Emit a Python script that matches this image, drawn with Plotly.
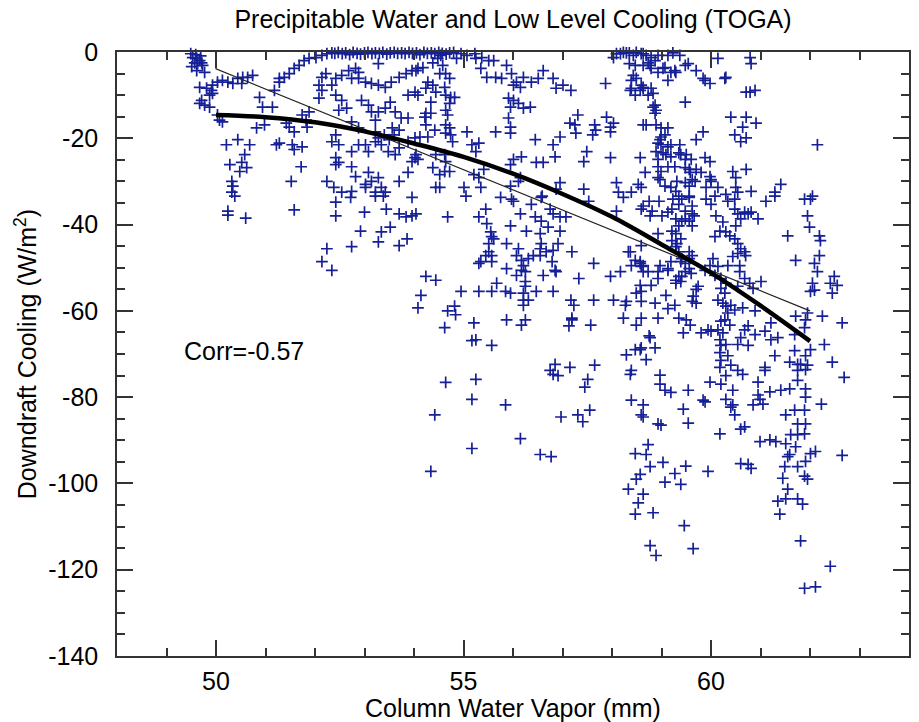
import plotly.graph_objects as go

# ---- data: (column water vapor [mm], downdraft cooling [W/m^2]) ----
west_upper = [
    (49.53,-1.3),(49.61,-1.5),(49.67,-2.0),(49.57,-2.5),(49.63,-2.7),(49.71,-2.5),(49.73,-3.1),(49.61,-4.3),(49.77,-4.7),(49.49,-0.4),
    (49.59,-0.6),(49.51,-3.4),(49.69,-0.9),(49.67,-8.2),(49.81,-8.4),(49.91,-8.9),(49.93,-9.6),(49.87,-10.0),(49.71,-11.2),(49.67,-11.9),
    (49.77,-12.3),(49.87,-12.8),(50.07,-15.8),(50.13,-16.2),(50.03,-14.6),(49.93,-7.7),(50.03,-7.0),(50.13,-6.6),(50.24,-7.0),(50.34,-7.3),
    (50.44,-6.1),(50.54,-5.9),(50.64,-5.9),(50.74,-5.4),(50.52,-7.3),(50.88,-10.5),(50.94,-12.8),(51.14,-12.8),(51.18,-8.9),(51.28,-6.1),
    (51.28,-7.0),(51.38,-5.9),(51.48,-5.0),(51.58,-3.8),(51.68,-3.1),(51.78,-2.0),(51.88,-1.5),(52.02,-1.3),(52.14,-0.8),(52.24,-0.4),
    (52.34,-0.2),
]
west_lower = [
    (50.21,-21.5),(50.44,-20.3),(50.68,-21.5),(50.28,-26.1),(50.58,-23.8),(50.52,-25.6),(50.62,-26.8),(50.48,-27.7),(50.32,-30.0),(50.34,-31.1),
    (50.32,-32.5),(50.82,-17.6),(50.98,-16.9),(50.24,-36.9),(50.24,-37.8),(50.60,-38.5),(51.58,-36.6),(50.38,-33.4),(51.22,-21.5),(51.28,-21.1),
    (51.54,-21.5),(51.58,-22.6),(51.74,-22.0),(51.52,-30.0),(51.72,-26.6),(51.42,-16.5),(51.58,-18.5),(51.74,-14.6),(51.88,-13.9),(51.82,-15.8),
    (51.48,-17.4),(51.84,-17.4),
]
central_west = [
    (52.14,-5.9),(52.22,-5.0),(52.08,-7.7),(52.14,-8.9),(52.08,-10.7),(52.34,-7.7),(52.42,-6.1),(52.54,-5.4),(52.68,-4.3),(52.82,-3.8),
    (52.88,-4.7),(52.74,-6.1),(52.88,-6.1),(53.02,-7.0),(53.14,-7.3),(53.28,-7.7),(53.42,-8.2),(53.54,-7.0),(53.70,-5.9),(53.84,-5.0),
    (53.96,-4.3),(53.28,-2.7),(52.42,-10.0),(52.54,-11.2),(52.64,-13.0),(52.48,-13.5),(52.74,-16.2),(52.88,-17.6),(52.94,-11.2),(53.08,-12.3),
    (53.14,-13.9),(53.22,-15.8),(53.28,-13.9),(53.42,-13.0),(53.52,-11.6),(53.62,-13.9),(53.74,-15.3),(53.88,-15.3),(53.88,-10.0),(54.02,-9.3),
    (53.22,-18.5),(53.28,-19.9),(53.22,-20.8),(53.34,-21.5),(53.48,-23.1),(53.02,-21.5),(53.08,-23.1),(52.74,-23.1),(52.88,-21.5),(52.42,-19.2),
    (52.48,-21.5),(52.34,-20.8),(52.42,-24.5),(52.48,-25.6),(52.42,-26.1),(52.74,-26.6),(52.82,-28.9),(53.02,-30.7),(53.08,-27.9),(53.14,-30.0),
    (53.28,-29.1),(53.34,-31.4),(53.42,-32.5),(53.22,-32.5),(53.02,-31.4),(52.74,-32.3),(52.54,-32.5),(52.38,-31.4),(52.24,-30.0),(53.70,-30.0),
    (53.96,-25.4),(54.02,-24.5),(53.88,-27.9),(53.62,-23.8),(53.70,-22.2),(53.88,-20.8),(54.02,-19.9),(53.40,-19.2),(53.50,-20.3),(53.60,-19.2),
    (53.70,-18.1),(53.56,-17.6),
    (52.42,-34.8),(52.72,-33.7),(52.42,-38.0),(53.00,-37.1),(53.44,-36.4),(53.70,-37.5),(53.84,-38.2),(53.96,-38.0),(52.92,-41.5),(53.34,-41.7),
    (53.52,-40.6),(53.28,-44.0),(52.74,-45.1),(52.24,-45.6),(52.14,-48.6),(52.34,-50.6),(53.70,-44.9),(53.86,-43.3),(53.22,-33.4),(53.38,-33.4),
    (53.96,-33.7),
]
top_row = [
    (52.40,-0.3),(52.47,-0.1),(52.55,-0.4),(52.62,-0.2),(52.70,-0.6),(52.77,-0.1),(52.85,-0.3),(52.92,-0.5),(53.00,-0.2),(53.07,-0.1),
    (53.15,-0.4),(53.22,-0.2),(53.30,-0.3),(53.37,-0.1),(53.45,-0.5),(53.52,-0.2),(53.60,-0.1),(53.67,-0.3),(53.75,-0.2),(53.82,-0.4),
    (53.90,-0.1),(53.97,-0.3),(54.05,-0.2),(54.12,-0.6),(54.20,-0.1),(54.27,-0.3),(54.35,-0.2),(54.42,-0.4),(54.50,-0.1),(54.57,-0.3),
    (54.65,-0.5),(54.72,-0.2),(54.80,-0.1),(54.95,-0.4),(55.07,-0.8),(55.23,-0.4),(55.37,-1.3),(55.51,-2.0),(58.09,-0.4),(58.23,-0.1),
    (58.35,-0.2),(58.49,-0.1),(58.63,-0.4),(58.17,-0.4),(58.29,-0.2),(58.43,-0.8),(58.59,-0.4),(58.69,-0.8),(58.03,-1.3),
]
central_upper = [
    (55.25,-1.5),(55.35,-3.8),(55.61,-2.0),(55.87,-3.1),(55.97,-5.0),(56.01,-7.7),(56.07,-7.0),(56.21,-5.9),(56.15,-8.2),(55.47,-5.9),
    (55.65,-5.9),(55.77,-6.1),(56.37,-7.0),(56.51,-6.1),(56.61,-4.3),(56.81,-6.1),(56.87,-8.4),(57.01,-7.7),(57.17,-8.9),(57.87,-7.3),
    (58.47,-3.1),(58.43,-5.4),(58.49,-6.1),(58.39,-8.4),(58.47,-10.0),(58.63,-16.9),
    (54.08,-3.8),(54.18,-3.6),(54.04,-4.3),(54.28,-7.0),(54.24,-8.4),(54.38,-7.7),(54.44,-9.3),(54.08,-10.0),(54.34,-11.6),(54.24,-14.2),
    (54.34,-14.2),(54.22,-15.1),(54.24,-16.9),(54.42,-18.1),(54.12,-19.7),(54.28,-19.7),(54.04,-23.8),(54.08,-24.9),(54.44,-23.8),(54.38,-26.8),
    (54.52,-28.4),(54.44,-31.4),(54.52,-5.0),(54.64,-5.0),(54.72,-6.1),(54.62,-8.2),(54.64,-10.0),(54.74,-10.5),(54.82,-10.5),(54.72,-11.9),
    (54.64,-13.5),(54.68,-14.6),(54.64,-16.9),(54.72,-17.6),(54.64,-18.8),(54.74,-19.2),(54.78,-20.8),(54.62,-23.8),(54.64,-25.4),(54.62,-27.7),
    (54.72,-27.7),(54.54,-0.8),(54.58,-3.1),(54.86,-1.5),(54.38,-2.5),(54.48,-1.5),
    (56.01,-11.2),(55.91,-10.7),(56.11,-11.9),(56.21,-13.0),(56.35,-12.8),(55.95,-12.8),(55.91,-15.3),(55.95,-17.4),(55.95,-18.8),(55.65,-18.5),
    (55.07,-18.5),(55.17,-21.5),(55.31,-21.1),(55.25,-23.1),(55.21,-28.4),(55.41,-27.2),(55.31,-29.1),(55.35,-31.4),(55.01,-31.4),(55.05,-33.4),
    (54.52,-31.4),(55.95,-26.1),(56.01,-24.9),(56.17,-24.3),(56.15,-29.1),(56.11,-30.0),(55.95,-31.1),(56.45,-20.3),(56.47,-25.6),(56.61,-25.6),
    (56.81,-21.5),(56.95,-19.7),(56.85,-24.3),(57.15,-16.5),(57.25,-16.9),(57.31,-14.6),(57.27,-18.8),(57.65,-16.9),(57.61,-19.2),(57.67,-18.1),
    (57.89,-15.1),(57.97,-17.4),(58.03,-16.5),(57.97,-18.5),(57.49,-23.1),(57.43,-25.4),(57.97,-24.5),(58.09,-30.3),(56.95,-30.3),(56.87,-31.8),
    (57.43,-31.8),(56.59,-33.4),(58.57,-24.5),(58.53,-30.7),
]
east_upper = [
    (58.79,-1.3),(58.73,-2.5),(58.79,-3.8),(58.77,-3.1),(58.87,-2.0),(58.93,-0.8),(59.03,-3.8),(59.13,-0.8),(59.23,-0.2),(59.37,-0.8),
    (59.54,-2.7),(59.70,-4.3),(59.84,-6.1),(59.98,-7.3),(59.19,-4.7),(59.29,-4.7),(59.13,-6.6),(60.14,-1.5),(60.30,-5.9),(60.79,-1.3),
    (60.81,-2.7),(60.79,-9.3),(60.89,-8.9),(60.71,-9.3),(59.48,-11.6),(58.87,-12.3),(58.89,-13.5),(58.59,-7.7),(58.63,-8.4),(58.79,-8.4),
    (58.73,-10.0),(60.40,-15.1),(60.71,-15.1),(60.91,-16.5),(60.64,-17.4),(60.48,-19.2),(60.71,-19.9),(60.60,-20.8),(59.84,-18.5),(59.70,-20.3),
    (62.15,-21.5),(58.69,-16.9),(58.89,-16.9),(58.99,-17.6),(59.13,-17.6),(59.07,-19.2),(58.97,-20.3),(58.99,-21.5),(58.89,-23.1),(59.09,-23.8),
    (59.19,-21.5),(59.37,-21.5),(59.39,-23.8),(59.50,-23.8),(59.60,-24.9),(59.88,-24.5),(59.98,-25.4),(58.93,-26.6),(58.99,-27.7),(59.13,-26.6),
    (59.27,-26.6),(59.48,-26.8),(59.58,-27.9),(59.70,-27.2),(59.80,-27.9),(59.98,-28.9),(60.00,-30.0),(60.14,-31.4),(59.90,-31.4),(59.68,-30.0),
    (59.56,-31.1),(59.31,-30.0),(59.19,-31.4),(59.29,-32.3),(58.67,-27.9),(58.93,-29.1),(58.59,-31.4),(60.44,-27.7),(60.71,-27.2),(60.50,-29.1),
    (60.50,-31.4),(60.54,-32.5),(60.81,-32.3),(61.29,-32.5),(61.41,-30.7),(62.05,-33.4),(60.30,-33.0),(59.56,-33.4),
    (58.63,-3.1),(58.35,-2.7),(58.39,-6.6),(58.37,-8.9),(58.57,-8.9),(58.63,-8.2),(58.83,-9.6),(58.83,-12.8),(58.87,-14.2),(58.99,-19.7),
    (58.93,-21.1),(59.13,-22.0),(59.03,-23.4),(58.93,-24.9),(59.19,-24.3),(59.35,-23.4),(59.48,-24.9),(59.56,-27.2),(58.97,-29.6),(59.07,-31.1),
    (59.48,-30.3),(59.62,-29.6),(60.00,-29.6),(60.08,-33.4),(59.35,-33.4),(58.93,-4.7),(59.07,-3.6),(59.27,-4.3),(59.48,-3.1),(59.88,-6.6),
    (60.28,-6.1),
]
central_lower = [
    (54.04,-37.5),(54.68,-38.2),(55.31,-38.2),(55.45,-36.4),(55.47,-39.8),(55.55,-41.7),(55.57,-42.8),(55.51,-44.4),(55.61,-43.3),(55.51,-46.3),
    (55.45,-47.2),(55.57,-47.2),(55.31,-49.0),(55.87,-44.4),(55.95,-40.3),(55.75,-33.7),(55.97,-34.1),(56.01,-34.6),(56.15,-37.5),(56.37,-35.3),
    (56.57,-33.7),(56.45,-38.2),(56.27,-41.5),(56.55,-42.1),(56.57,-44.4),(56.75,-36.4),(56.81,-37.5),(56.95,-38.2),(57.07,-38.2),(56.95,-41.5),
    (56.91,-44.4),(56.81,-46.0),(56.67,-46.3),(56.55,-45.6),(56.55,-47.2),(56.41,-47.2),(56.31,-47.9),(56.11,-45.6),(56.07,-47.2),(56.17,-48.3),
    (56.21,-49.5),(56.17,-50.6),(56.25,-50.9),(55.87,-50.2),(56.25,-53.2),(56.25,-54.3),(56.21,-57.5),(56.31,-57.5),(56.21,-58.7),(56.25,-62.1),
    (56.17,-63.3),(56.61,-51.8),(56.87,-50.9),(56.81,-55.5),(57.19,-46.3),(57.33,-52.5),(57.63,-49.0),(57.97,-52.0),(58.17,-50.9),(57.63,-57.5),
    (57.17,-57.5),(57.23,-58.7),(58.03,-57.5),(58.27,-58.7),(58.23,-61.7),(57.19,-62.1),(57.13,-63.5),(57.57,-63.3),(58.37,-46.3),(58.47,-48.3),
    (58.57,-49.0),(58.49,-55.9),(58.49,-63.3),(58.29,-70.2),(58.47,-69.0),(58.57,-69.0),(54.24,-52.0),(54.44,-52.9),(54.14,-56.4),(54.08,-59.3),
    (54.95,-55.5),(55.31,-55.5),(55.57,-55.5),(55.67,-53.6),(55.85,-55.5),(55.95,-55.9),(54.68,-60.0),(54.82,-58.9),(54.84,-60.9),(54.62,-63.9),
    (55.21,-62.8),(55.25,-66.7),(55.57,-68.0),(56.85,-72.4),(56.75,-73.8),(57.15,-73.1),(57.65,-72.6),(58.39,-73.8),
    (55.35,-48.6),(55.57,-48.6),(56.07,-51.8),(56.21,-55.9),(56.79,-48.6),(56.85,-50.6),(56.47,-55.5),(55.87,-62.1),(55.17,-66.9),(58.33,-46.3),
    (58.59,-44.9),(58.57,-48.6),(58.39,-49.5),(58.63,-49.5),(58.73,-50.9),(58.79,-54.1),(58.57,-54.1),(58.93,-52.5),(58.97,-49.5),(59.13,-59.5),
    (59.27,-58.7),(59.35,-61.7),(59.09,-56.4),(58.93,-42.1),(58.77,-38.0),(58.59,-36.4),(59.13,-37.1),(59.23,-34.1),(58.63,-35.7),(58.39,-32.5),
    (58.13,-32.5),(58.23,-33.7),(58.09,-36.9),(57.53,-34.6),(56.57,-39.2),(56.71,-40.6),(58.59,-61.7),(58.29,-57.8),(57.19,-61.7),(58.77,-66.2),
]
east_middle = [
    (58.75,-34.6),(58.95,-34.6),(58.81,-36.9),(59.01,-38.0),(59.21,-36.4),(59.35,-35.3),(59.41,-34.1),(59.56,-33.7),(59.48,-36.9),(59.62,-37.5),
    (59.29,-38.7),(59.41,-39.2),(59.56,-39.2),(59.62,-40.3),(59.35,-40.3),(59.21,-41.5),(59.29,-42.1),(59.21,-43.7),(59.31,-44.4),(59.39,-43.3),
    (59.29,-45.1),(59.35,-46.3),(59.41,-47.9),(59.56,-46.3),(59.62,-47.2),(59.48,-49.0),(59.56,-50.2),(59.60,-51.3),(59.41,-52.0),(59.29,-53.6),
    (59.39,-53.2),(59.74,-54.3),(59.64,-56.6),(59.62,-57.8),(59.90,-34.1),(60.00,-35.3),(60.10,-38.0),(60.24,-39.4),(60.18,-41.5),(60.08,-42.8),
    (60.30,-41.7),(60.38,-42.6),(60.48,-43.3),(60.54,-44.4),(60.60,-45.6),(60.54,-46.7),(60.44,-47.4),(60.68,-46.3),(60.70,-47.2),(60.34,-34.6),
    (60.48,-36.4),(60.54,-37.5),(60.68,-37.1),(60.75,-37.5),(60.60,-38.7),(60.50,-40.3),(60.95,-38.7),(61.11,-34.6),(61.29,-33.4),(60.04,-47.9),
    (59.98,-49.5),(60.14,-49.7),(59.88,-50.6),(60.08,-51.8),(60.20,-52.5),(60.30,-53.6),(60.28,-55.9),(60.14,-57.5),(60.24,-58.2),(60.30,-58.9),
    (60.40,-58.7),(60.48,-59.8),(60.34,-60.5),(60.64,-59.3),(60.89,-60.0),(60.58,-50.9),(60.68,-52.5),(60.78,-53.6),(60.85,-54.8),(61.01,-53.2),
    (60.54,-54.3),(60.28,-62.1),(60.20,-62.4),(60.38,-63.3),(60.14,-64.4),(60.24,-65.1),(60.18,-66.7),(60.20,-68.0),(60.30,-67.8),(60.18,-69.7),
    (60.34,-70.4),(60.20,-71.5),(60.18,-73.1),(60.40,-72.6),(60.54,-67.8),(60.75,-68.0),(60.60,-66.2),(60.68,-64.4),(60.75,-63.5),(60.89,-65.5),
    (61.09,-64.7),(61.21,-66.7),(61.29,-70.4),(61.09,-73.1),(60.54,-73.8),(59.80,-65.1),(59.94,-64.4),(59.50,-62.1),(59.58,-63.3),(59.44,-65.1),
    (58.87,-58.2),(58.93,-61.7),(58.75,-65.8),(58.87,-68.6),(58.69,-71.3),(58.59,-68.6),(58.59,-49.7),(58.63,-50.9),(58.59,-55.5),(58.59,-57.8),
    (59.13,-50.6),(58.93,-50.9),(59.29,-52.9),(59.70,-58.2),(61.55,-42.6),(61.71,-48.3),(62.01,-34.1),(61.95,-38.0),(61.99,-40.6),(62.19,-42.6),
    (62.21,-43.7),(62.19,-47.2),(62.09,-49.0),(62.15,-50.9),(62.49,-52.0),(62.41,-53.6),(62.55,-54.1),(62.45,-55.9),(62.05,-53.6),(62.01,-55.5),
    (62.09,-55.2),(61.71,-61.2),(61.95,-60.5),(61.91,-62.1),(61.89,-63.9),(62.25,-61.2),(62.65,-62.8),(61.69,-65.5),(62.29,-67.8),(62.01,-69.0),
    (61.91,-70.4),(61.95,-72.6),(61.75,-72.4),(61.21,-62.8),(61.89,-34.1),
    (59.62,-35.7),(59.48,-38.7),(59.66,-38.0),(59.56,-47.9),(59.39,-48.6),(59.48,-50.9),(59.35,-52.0),(59.70,-55.0),(59.13,-50.2),(59.19,-48.6),
    (60.48,-34.1),(60.81,-37.1),(61.69,-69.2),(61.35,-66.2),(60.58,-49.5),(60.34,-49.5),(60.20,-54.8),(60.00,-64.7),
]
strong_cooling = [
    (54.64,-76.6),(55.25,-75.9),(55.17,-80.5),(55.85,-81.8),(54.42,-84.1),(55.17,-91.9),(54.34,-97.2),(56.15,-89.6),(56.55,-93.3),(56.77,-93.8),
    (56.97,-84.6),(57.31,-84.1),(57.41,-85.7),(57.55,-83.0),(57.45,-77.7),(57.51,-75.9),(56.81,-74.7),(56.91,-75.0),(58.39,-80.7),(58.59,-84.1),
    (58.47,-93.1),(58.49,-99.0),(58.33,-101.3),(58.53,-104.5),(58.47,-107.1),(58.37,-74.7),(58.63,-81.8),(58.63,-84.6),(58.93,-86.2),(58.99,-86.5),
    (58.73,-91.0),(58.69,-93.3),(58.77,-96.1),(58.57,-97.9),(58.63,-102.5),(58.83,-106.8),(58.97,-74.9),(58.97,-77.0),(59.07,-78.4),(59.19,-78.9),
    (59.54,-78.4),(59.44,-82.8),(59.54,-86.0),(59.03,-95.1),(59.07,-99.7),(59.27,-97.7),(59.39,-100.2),(59.49,-96.0),(59.94,-97.2),(59.46,-109.8),
    (58.77,-114.4),(58.89,-116.7),(59.64,-115.1),(59.84,-80.7),(59.88,-81.1),(59.98,-76.5),(60.20,-77.0),(60.18,-88.5),(60.30,-80.5),(60.40,-82.3),
    (60.44,-78.4),(60.48,-84.1),(60.64,-74.7),(60.68,-86.9),(60.60,-95.4),(60.75,-95.6),(60.81,-96.5),(60.95,-76.5),(60.99,-80.5),(60.99,-90.3),
    (60.85,-81.8),(61.05,-81.6),(61.09,-73.8),(61.19,-78.8),(61.19,-89.9),(61.31,-90.3),(61.41,-78.4),(61.51,-84.1),(61.59,-78.1),(61.59,-71.9),
    (61.51,-90.8),(61.55,-93.8),(61.49,-96.1),(61.45,-98.8),(61.55,-101.3),(61.35,-104.1),(61.39,-107.1),(61.51,-103.6),(61.75,-103.6),(61.85,-104.8),
    (61.89,-98.3),(61.95,-99.0),(61.75,-96.1),(61.91,-94.9),(62.01,-93.1),(62.11,-92.6),(61.81,-113.3),(61.89,-124.3),(62.11,-124.0),(62.41,-119.2),
    (62.65,-93.5),(62.23,-81.6),(62.69,-75.4),(62.45,-71.9),(61.75,-73.8),(61.91,-73.6),(61.75,-76.1),(61.91,-78.1),(61.91,-80.0),(61.69,-83.0),
    (61.89,-83.0),(61.75,-86.2),(61.91,-86.2),(61.61,-88.7),(61.75,-88.7),(61.89,-88.5),(61.71,-91.5),(61.59,-93.3),(61.81,-72.4),(60.30,-75.0),
    (60.95,-79.5),(60.44,-81.8),(60.60,-87.4),
]

groups = [west_upper, west_lower, central_west, top_row, central_upper,
          east_upper, central_lower, east_middle, strong_cooling]
cwv = [p[0] for g in groups for p in g]
cooling = [p[1] for g in groups for p in g]

# linear fit (thin line) and smoothed mean (thick curve)
fit_cwv = [50.0, 50.0, 62.0]
fit_cool = [0.0, -3.9, -60.0]
smooth_cwv = [50, 51, 52, 53, 54, 55, 56, 57, 58, 59, 60, 61, 62]
smooth_cool = [-14.6, -15.1, -16.3, -18.4, -21.2, -24.3, -28.2, -32.9, -38.2, -44.6, -51.2, -58.8, -67.0]

# tick values and labels (hyphen minus, as in the original)
x_tickvals = [50, 55, 60]
x_ticklabels = ["50", "55", "60"]
y_tickvals = [0, -20, -40, -60, -80, -100, -120, -140]
y_ticklabels = ["0", "-20", "-40", "-60", "-80", "-100", "-120", "-140"]

corr_text = "Corr=-0.57"
title_text = "Precipitable Water and Low Level Cooling (TOGA)"
x_title = "Column Water Vapor (mm)"
y_title = "Downdraft Cooling (W/m<sup>2</sup>)"

FONT = "Liberation Sans, Arial, Helvetica, sans-serif"
AXC = "#333333"
MC = "rgb(22,32,150)"
FS = 25

fig = go.Figure()
fig.add_trace(go.Scatter(
    x=cwv, y=cooling, mode="markers", cliponaxis=False,
    marker=dict(symbol="cross-thin", size=8.4, color=MC,
                line=dict(color=MC, width=1.7)),
    showlegend=False, hoverinfo="skip"))
fig.add_trace(go.Scatter(
    x=fit_cwv, y=fit_cool, mode="lines",
    line=dict(color="#222222", width=1.2), showlegend=False))
fig.add_trace(go.Scatter(
    x=smooth_cwv, y=smooth_cool, mode="lines", line_shape="spline",
    line=dict(color="black", width=4.5), showlegend=False))

fig.add_annotation(x=49.31, y=-69.2, xref="x", yref="y", text=corr_text,
                   showarrow=False, xanchor="left", yanchor="middle",
                   font=dict(family=FONT, size=FS, color="black"))

axis_common = dict(showline=True, linecolor=AXC, linewidth=1.5, mirror="ticks",
                   ticks="inside", tickcolor=AXC, tickwidth=1.5, ticklen=16,
                   showgrid=False, zeroline=False, tickmode="array",
                   tickfont=dict(family=FONT, size=FS, color="black"))

fig.update_layout(
    width=919, height=722, autosize=False,
    margin=dict(l=117, r=8, t=52, b=60),
    paper_bgcolor="white", plot_bgcolor="white",
    font=dict(family=FONT, color="black"),
    title=dict(text=title_text, x=0.5, xanchor="center", xref="paper",
               y=0.974, yref="container", yanchor="middle",
               font=dict(family=FONT, size=FS, color="black")),
    xaxis=dict(range=[48, 64], tickvals=x_tickvals, ticktext=x_ticklabels,
               minor=dict(dtick=1, tick0=48, ticks="inside", ticklen=8,
                          tickcolor=AXC, tickwidth=1.5),
               title=dict(text=x_title, standoff=2,
                          font=dict(family=FONT, size=FS, color="black")),
               ticklabelstandoff=2,
               **axis_common),
    yaxis=dict(range=[-140, 0], tickvals=y_tickvals, ticktext=y_ticklabels,
               minor=dict(dtick=5, tick0=0, ticks="inside", ticklen=8,
                          tickcolor=AXC, tickwidth=1.5),
               title=dict(text=y_title, standoff=4,
                          font=dict(family=FONT, size=FS, color="black")),
               ticklabelstandoff=12,
               **axis_common),
)

fig.write_html("out.html")
